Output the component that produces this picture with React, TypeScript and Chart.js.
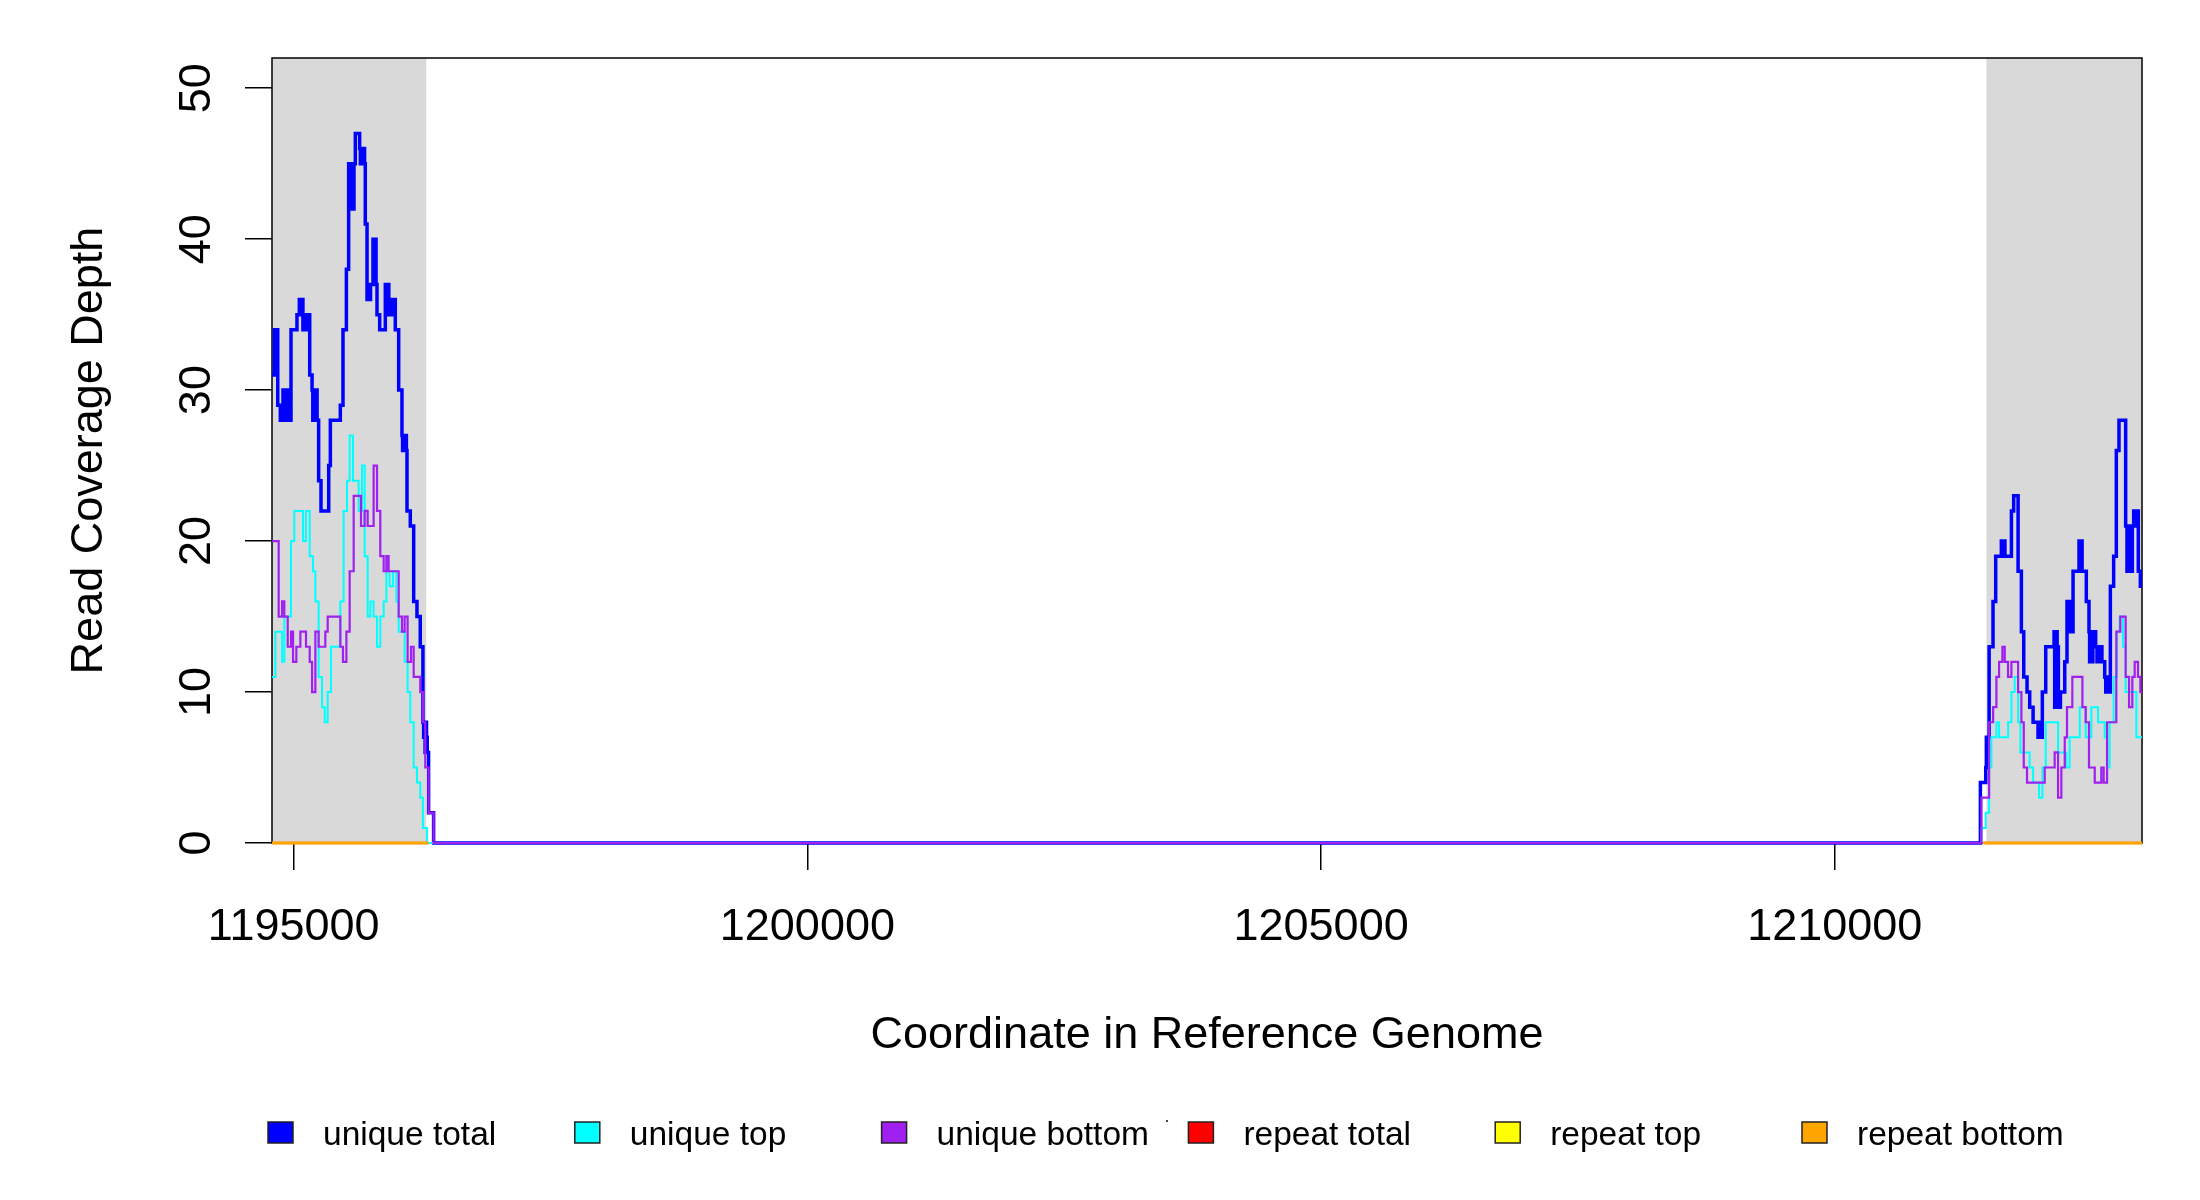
import React, { useEffect, useRef } from "react";
import { Chart, registerables } from "chart.js";

Chart.register(...registerables);

// ---- axes ----
const X_MIN = 1194789;
const X_MAX = 1212990;
const Y_MIN = 0;
const Y_MAX = 52;
const xTickValues = [1195000, 1200000, 1205000, 1210000];
const yTickValues = [0, 10, 20, 30, 40, 50];
const xTitle = "Coordinate in Reference Genome";
const yTitle = "Read Coverage Depth";

// shaded (grey) regions, genome coordinates
const shadedStart = [X_MIN, 1211476];
const shadedEnd = [1196290, X_MAX];

// ---- series (step start coordinate, depth) ----
const uniqueTotalPos = [
  1194789, 1194812, 1194818, 1194824, 1194830, 1194836, 1194845, 1194870, 1194896, 1194903,
  1194910, 1194918, 1194926, 1194934, 1194942, 1194950, 1194958, 1194966, 1194974, 1195032,
  1195055, 1195062, 1195069, 1195076, 1195083, 1195090, 1195097, 1195104, 1195111, 1195118,
  1195126, 1195135, 1195145, 1195156, 1195179, 1195186, 1195193, 1195200, 1195207, 1195214,
  1195221, 1195228, 1195243, 1195266, 1195341, 1195357, 1195454, 1195480, 1195513, 1195535,
  1195541, 1195547, 1195553, 1195559, 1195566, 1195573, 1195580, 1195587, 1195600, 1195642,
  1195649, 1195656, 1195663, 1195670, 1195677, 1195684, 1195690, 1195697, 1195714, 1195720,
  1195727, 1195734, 1195741, 1195748, 1195772, 1195778, 1195784, 1195790, 1195796, 1195802,
  1195811, 1195837, 1195892, 1195898, 1195905, 1195912, 1195919, 1195926, 1195933, 1195941,
  1195948, 1195955, 1195962, 1195970, 1195978, 1195989, 1196022, 1196054, 1196060, 1196066,
  1196072, 1196078, 1196084, 1196090, 1196097, 1196103, 1196135, 1196168, 1196200, 1196232,
  1196258, 1196265, 1196272, 1196279, 1196286, 1196293, 1196300, 1196313, 1196362,
  1211417, 1211469, 1211475, 1211481, 1211487, 1211502, 1211540, 1211566, 1211621, 1211628,
  1211635, 1211642, 1211649, 1211656, 1211719, 1211741, 1211784, 1211816, 1211839, 1211871,
  1211897, 1211930, 1211978, 1211985, 1211992, 1211999, 1212005, 1212020, 1212053, 1212134,
  1212140, 1212146, 1212152, 1212158, 1212164, 1212170, 1212176, 1212196, 1212238, 1212260,
  1212266, 1212272, 1212278, 1212284, 1212290, 1212296, 1212302, 1212319, 1212377, 1212383,
  1212389, 1212395, 1212401, 1212407, 1212448, 1212474, 1212480, 1212486, 1212492, 1212498,
  1212505, 1212512, 1212539, 1212552, 1212560, 1212568, 1212576, 1212584, 1212592, 1212600,
  1212627, 1212637, 1212644, 1212651, 1212658, 1212665, 1212682, 1212714, 1212740, 1212766,
  1212831, 1212844, 1212851, 1212858, 1212865, 1212872, 1212896, 1212909, 1212915, 1212921,
  1212927, 1212933, 1212954, 1212974, 1212995,
];
const uniqueTotalDepth = [
  31, 34, 31, 34, 31, 34, 29, 28, 30, 28,
  30, 28, 30, 28, 30, 28, 30, 28, 34, 35,
  36, 35, 36, 35, 36, 34, 35, 34, 35, 34,
  35, 34, 35, 31, 30, 28, 30, 28, 30, 28,
  30, 28, 24, 22, 25, 28, 29, 34, 38, 45,
  42, 45, 42, 45, 42, 45, 42, 45, 47, 46,
  45, 46, 45, 46, 45, 46, 45, 41, 36, 37,
  36, 37, 36, 37, 40, 37, 40, 37, 40, 37,
  35, 34, 37, 35, 37, 35, 37, 35, 36, 35,
  36, 35, 36, 35, 36, 34, 30, 27, 26, 27,
  26, 27, 26, 27, 26, 22, 21, 16, 15, 13,
  8, 7, 8, 6, 8, 7, 6, 2, 0,
  4, 5, 7, 5, 7, 13, 16, 19, 20, 19,
  20, 19, 20, 19, 22, 23, 18, 14, 11, 10,
  9, 8, 7, 8, 7, 8, 7, 10, 13, 14,
  9, 14, 9, 14, 9, 13, 9, 10, 12, 16,
  14, 16, 14, 16, 14, 16, 14, 18, 20, 18,
  20, 18, 20, 18, 16, 14, 12, 14, 12, 14,
  12, 14, 13, 12, 13, 12, 13, 12, 13, 12,
  11, 10, 11, 10, 11, 10, 17, 19, 26, 28,
  21, 18, 21, 18, 21, 18, 21, 22, 21, 22,
  21, 22, 18, 17, 17,
];

const uniqueTopPos = [
  1194789, 1194822, 1194887, 1194909, 1194974, 1195006, 1195091, 1195120, 1195156, 1195188,
  1195211, 1195243, 1195276, 1195302, 1195331, 1195363, 1195454, 1195486, 1195519, 1195545,
  1195577, 1195632, 1195665, 1195691, 1195720, 1195746, 1195778, 1195811, 1195843, 1195876,
  1195902, 1195934, 1195967, 1195999, 1196022, 1196080, 1196109, 1196135, 1196168, 1196200,
  1196232, 1196258, 1196297,
  1211427, 1211469, 1211502, 1211524, 1211573, 1211599, 1211687, 1211719, 1211751, 1211784,
  1211806, 1211897, 1211930, 1211988, 1212021, 1212053, 1212173, 1212254, 1212286, 1212384,
  1212442, 1212497, 1212562, 1212627, 1212650, 1212675, 1212714, 1212747, 1212773, 1212805,
  1212831, 1212935, 1212995,
];
const uniqueTopDepth = [
  11, 14, 12, 15, 20, 22, 20, 22, 19, 18,
  16, 11, 9, 8, 10, 13, 16, 22, 24, 27,
  24, 22, 25, 19, 15, 16, 15, 13, 15, 16,
  18, 17, 18, 16, 14, 12, 10, 8, 5, 4,
  3, 1, 0,
  1, 2, 5, 7, 8, 7, 8, 10, 11, 8,
  6, 5, 4, 3, 5, 8, 6, 5, 7, 9,
  7, 9, 8, 7, 5, 8, 11, 14, 15, 13,
  10, 7, 7,
];

const uniqueBottomPos = [
  1194789, 1194854, 1194887, 1194909, 1194942, 1194974, 1194994, 1195026, 1195065, 1195120,
  1195156, 1195179, 1195211, 1195243, 1195308, 1195331, 1195454, 1195480, 1195513, 1195545,
  1195584, 1195655, 1195691, 1195720, 1195778, 1195811, 1195843, 1195876, 1195902, 1195924,
  1196022, 1196054, 1196080, 1196109, 1196142, 1196168, 1196232, 1196258, 1196281, 1196313,
  1196362,
  1211427, 1211502, 1211541, 1211573, 1211599, 1211631, 1211654, 1211686, 1211719, 1211784,
  1211816, 1211839, 1211871, 1212043, 1212140, 1212173, 1212205, 1212238, 1212260, 1212312,
  1212410, 1212442, 1212474, 1212530, 1212594, 1212617, 1212650, 1212740, 1212779, 1212831,
  1212864, 1212896, 1212919, 1212951, 1212974, 1212995,
];
const uniqueBottomDepth = [
  20, 15, 16, 15, 13, 14, 12, 13, 14, 13,
  12, 10, 14, 13, 14, 15, 13, 12, 14, 18,
  23, 21, 22, 21, 25, 22, 19, 18, 19, 18,
  15, 14, 15, 12, 13, 11, 10, 8, 5, 2,
  0,
  3, 8, 9, 11, 12, 13, 12, 11, 12, 10,
  8, 5, 4, 5, 6, 3, 5, 7, 9, 11,
  9, 8, 5, 4, 5, 4, 8, 14, 15, 11,
  9, 11, 12, 11, 10, 10,
];

// repeat series: zero inside the shaded regions, gap between
const repeatPos = [1194789, 1196310, 1203900, 1211445, 1212995];
const repeatTotalDepth = [0, 0, null, 0, 0];
const repeatTopDepth = [0, 0, null, 0, 0];
const repeatBottomDepth = [0, 0, null, 0, 0];

// legend
const legendLabels = ["unique total", "unique top", "unique bottom", "repeat total", "repeat top", "repeat bottom"];
const legendColors = ["#0000FF", "#00FFFF", "#A020F0", "#FF0000", "#FFFF00", "#FFA500"];

const FONT = '"Liberation Sans", Arial, Helvetica, sans-serif';

function toPoints(xs: number[], ys: (number | null)[]) {
  return xs.map((x, i) => ({ x, y: ys[i] }));
}

const decorPlugin = {
  id: "decor",
  beforeDatasetsDraw(chart: any) {
    const { ctx, chartArea: ca, scales } = chart;
    const xs = scales.x;
    ctx.save();
    ctx.fillStyle = "#D9D9D9";
    for (let i = 0; i < shadedStart.length; i++) {
      const a = Math.max(ca.left, xs.getPixelForValue(shadedStart[i]));
      const b = Math.min(ca.right, xs.getPixelForValue(shadedEnd[i]));
      ctx.fillRect(a, ca.top, b - a, ca.bottom - ca.top);
    }
    // plot box (lines are drawn over it)
    ctx.strokeStyle = "#000";
    ctx.lineWidth = 1.5;
    ctx.strokeRect(ca.left, ca.top, ca.right - ca.left, ca.bottom - ca.top);
    ctx.restore();
  },
  afterDraw(chart: any) {
    const { ctx, chartArea: ca, scales } = chart;
    const xs = scales.x;
    const ys = scales.y;
    ctx.save();
    ctx.fillStyle = "#000";
    ctx.font = `45px ${FONT}`;
    ctx.textBaseline = "alphabetic";
    ctx.textAlign = "center";
    // x tick labels
    for (const v of xTickValues) {
      ctx.fillText(String(v), xs.getPixelForValue(v), ca.bottom + 97);
    }
    // y tick labels (rotated)
    for (const v of yTickValues) {
      ctx.save();
      ctx.translate(ca.left - 62, ys.getPixelForValue(v));
      ctx.rotate(-Math.PI / 2);
      ctx.fillText(String(v), 0, 0);
      ctx.restore();
    }
    // titles
    ctx.fillText(xTitle, (ca.left + ca.right) / 2, ca.bottom + 205);
    ctx.save();
    ctx.translate(ca.left - 170, (ca.top + ca.bottom) / 2);
    ctx.rotate(-Math.PI / 2);
    ctx.fillText(yTitle, 0, 0);
    ctx.restore();

    // legend
    ctx.font = `33.5px ${FONT}`;
    ctx.textAlign = "left";
    const step = 306.8;
    const x0 = 268;
    for (let i = 0; i < legendLabels.length; i++) {
      const bx = x0 + i * step;
      ctx.fillStyle = legendColors[i];
      ctx.fillRect(bx, 1122, 25, 21);
      ctx.strokeStyle = "#222";
      ctx.lineWidth = 1.5;
      ctx.strokeRect(bx, 1122, 25, 21);
      ctx.fillStyle = "#000";
      ctx.fillText(legendLabels[i], bx + 55, 1145);
    }
    ctx.fillStyle = "#444";
    ctx.fillRect(1166, 1120, 2, 2);
    ctx.restore();
  },
};

export default function App() {
  const ref = useRef<HTMLCanvasElement | null>(null);

  useEffect(() => {
    document.body.style.margin = "0";
    const canvas = ref.current;
    if (!canvas) return;
    // later series are drawn on top (as in the reference): lower `order` draws last
    const mk = (idx: number, xs: number[], ys: (number | null)[], width: number) => ({
      label: legendLabels[idx],
      data: toPoints(xs, ys),
      borderColor: legendColors[idx],
      backgroundColor: legendColors[idx],
      borderWidth: width,
      order: legendLabels.length - idx,
      showLine: true,
      stepped: true,
      pointRadius: 0,
      pointHoverRadius: 0,
      fill: false,
      spanGaps: false,
      clip: { left: 0, top: 0, right: 0, bottom: 3 },
    });
    const chart = new Chart(canvas, {
      type: "scatter",
      data: {
        datasets: [
          mk(0, uniqueTotalPos, uniqueTotalDepth, 3.5),
          mk(1, uniqueTopPos, uniqueTopDepth, 2),
          mk(2, uniqueBottomPos, uniqueBottomDepth, 2.2),
          mk(3, repeatPos, repeatTotalDepth, 2.5),
          mk(4, repeatPos, repeatTopDepth, 2.5),
          mk(5, repeatPos, repeatBottomDepth, 2.5),
        ] as any,
      },
      options: {
        animation: false,
        responsive: false,
        devicePixelRatio: 1,
        events: [],
        layout: { padding: { left: 212, right: 58, top: 58, bottom: 297 } },
        plugins: { legend: { display: false }, tooltip: { enabled: false }, title: { display: false } },
        scales: {
          x: {
            type: "linear",
            min: X_MIN,
            max: X_MAX,
            afterBuildTicks: (s: any) => {
              s.ticks = xTickValues.map((v) => ({ value: v }));
            },
            afterFit: (s: any) => {
              s.height = 60;
            },
            ticks: { display: false },
            border: { display: false },
            grid: { drawOnChartArea: false, drawTicks: true, tickLength: 27, color: "#000", lineWidth: 1.5 },
          },
          y: {
            type: "linear",
            min: Y_MIN,
            max: Y_MAX,
            afterBuildTicks: (s: any) => {
              s.ticks = yTickValues.map((v) => ({ value: v }));
            },
            afterFit: (s: any) => {
              s.width = 60;
            },
            ticks: { display: false },
            border: { display: false },
            grid: { drawOnChartArea: false, drawTicks: true, tickLength: 27, color: "#000", lineWidth: 1.5 },
          },
        },
      } as any,
      plugins: [decorPlugin as any],
    });
    return () => chart.destroy();
  }, []);

  return (
    <div style={{ position: "absolute", left: 0, top: 0, width: 2200, height: 1200, background: "#fff" }}>
      <canvas ref={ref} width={2200} height={1200} style={{ width: 2200, height: 1200, display: "block" }} />
    </div>
  );
}
